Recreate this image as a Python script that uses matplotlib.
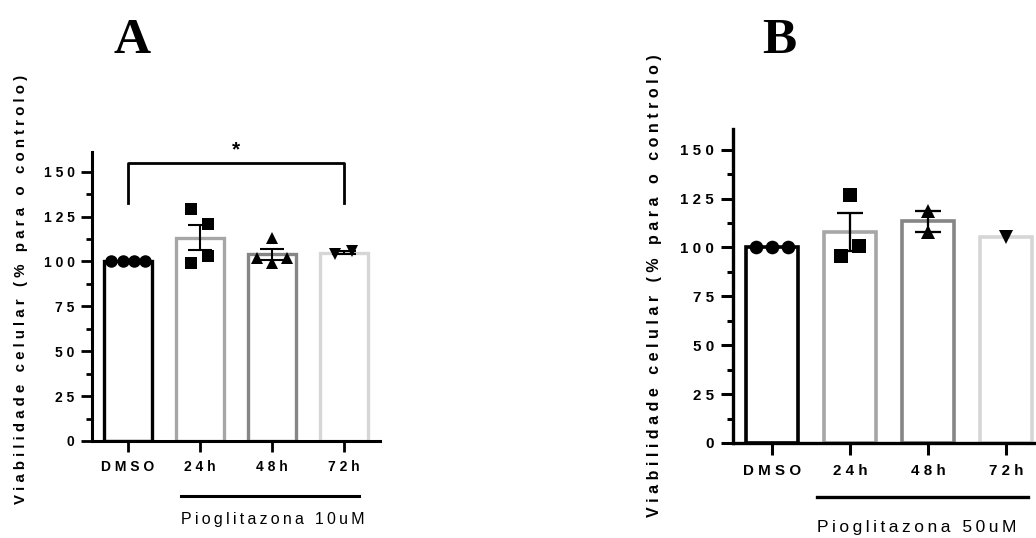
import matplotlib
matplotlib.use('Agg')
import matplotlib.pyplot as plt
import matplotlib.transforms as mtransforms
import numpy as np

# ---------------- data ----------------
categories = ['DMSO', '24h', '48h', '72h']
yticks = [0, 25, 50, 75, 100, 125, 150]
y_label = 'Viabilidade celular (% para o controlo)'
group_label_a = 'Pioglitazona 10uM'
group_label_b = 'Pioglitazona 50uM'

a_means = [100, 113.2, 104.0, 104.8]
a_sem = [0, 7.0, 3.0, 0.8]
a_dmso = [100, 100, 100, 100]
a_24h = [129, 121, 103.3, 99.4]
a_48h = [113, 102, 102, 99]
a_72h = [104.0, 105.6]

b_means = [100, 107.8, 113.3, 105.5]
b_sem = [0, 9.7, 5.4, 0]
b_dmso = [100, 100, 100]
b_24h = [95.6, 126.9, 100.9]
b_48h = [118.8, 107.9]
b_72h = [105.5]

# ---------------- style / layout ----------------
plt.rcParams['font.family'] = ['Liberation Sans', 'DejaVu Sans']
SEP = ' '
YSEP = ' '
GSEP = '\u2009'
bar_colors = ['#000000', '#a6a6a6', '#868686', '#d6d6d6']
markers = ['o', 's', '^', 'v']
W, H = 1036, 538

a_jit = [[-0.23, -0.07, 0.08, 0.24], [-0.12, 0.11, 0.11, -0.12],
         [0.0, -0.21, 0.21, 0.0], [-0.12, 0.11]]
b_jit = [[-0.21, 0.0, 0.21], [-0.12, 0.0, 0.12], [0.0, 0.0], [0.0]]


def spaced(s, sep):
    return sep.join(list(s))


fig = plt.figure(figsize=(W / 100, H / 100), dpi=100)


def px_axes(left, right, bottom, top):
    return fig.add_axes([left / W, 1 - bottom / H, (right - left) / W, (bottom - top) / H])


def draw_panel(ax, means, sems, points, jits, s, ytop, tick_fs, group_label,
               gx, gline_y, gtext_y, group_fs, title, title_x, ylab_x, ylab_y,
               ylab_fs):
    x = np.arange(len(categories))
    ax.bar(x, means, width=0.66, facecolor='white', edgecolor=bar_colors,
           linewidth=2.4 * s, zorder=1)
    for i, (pts, jt) in enumerate(zip(points, jits)):
        ax.plot(x[i] + np.array(jt), pts, linestyle='none', marker=markers[i],
                ms=(9.2 if markers[i] != 'o' else 9.0) * s, color='black',
                mew=0, zorder=3, clip_on=False)
    for i in range(len(categories)):
        if sems[i] > 0:
            ax.errorbar(x[i], means[i], yerr=sems[i], fmt='none', ecolor='black',
                        elinewidth=1.5 * s, capsize=8.5 * s, capthick=1.5 * s,
                        zorder=4)
    ax.set_xlim(-0.5, 3.5)
    ax.set_ylim(0, ytop)
    for sp in ['top', 'right']:
        ax.spines[sp].set_visible(False)
    for sp in ['left', 'bottom']:
        ax.spines[sp].set_linewidth(2.2 * s)
    ax.set_xticks(x)
    ax.set_xticklabels([spaced(c, SEP) for c in categories], fontsize=tick_fs,
                       fontweight='bold')
    ax.set_yticks(yticks)
    ax.set_yticklabels([spaced(str(v), SEP) for v in yticks], fontsize=tick_fs,
                       fontweight='bold')
    ax.set_yticks(np.arange(12.5, 150, 25), minor=True)
    ax.tick_params(axis='both', which='major', length=8 * s, width=2 * s,
                   color='black')
    ax.tick_params(axis='x', pad=6 * s)
    ax.tick_params(axis='y', pad=4.5 * s)
    ax.tick_params(axis='y', which='minor', length=4 * s, width=2 * s)
    trans = mtransforms.blended_transform_factory(ax.transData, ax.transAxes)
    ax.plot(gx, [gline_y, gline_y], color='black', lw=2.2 * s, transform=trans,
            clip_on=False)
    ax.text(gx[0], gtext_y, spaced(group_label, GSEP), transform=trans,
            ha='left', va='baseline', fontsize=group_fs)
    fig.text(title_x / W, 1 - 53 / H, title, ha='center', va='baseline',
             fontsize=37, fontweight='bold', family='Liberation Serif')
    fig.text(ylab_x / W, 1 - ylab_y / H, spaced(y_label, YSEP), rotation=90,
             ha='center', va='center', fontsize=ylab_fs, fontweight='bold')


# Panel A
axA = px_axes(92, 380, 441, 152)
draw_panel(axA, a_means, a_sem, [a_dmso, a_24h, a_48h, a_72h], a_jit, 1.0,
           161, 10, group_label_a, [0.74, 3.21], -0.190, -0.287, 11.5,
           'A', 132, 21, 289, 10.8)
axA.plot([0, 0, 3, 3], [132.7, 155, 155, 132.7], color='black', lw=2.0,
         clip_on=False)
axA.text(1.5, 162, '*', ha='center', va='center', fontsize=15,
         fontweight='bold', clip_on=False)

# Panel B
axB = px_axes(733, 1045, 443, 129)
draw_panel(axB, b_means, b_sem, [b_dmso, b_24h, b_48h, b_72h], b_jit, 1.09,
           160.6, 10.9, group_label_b, [0.58, 3.28], -0.172, -0.283, 12.5,
           'B', 779, 654, 286, 11.5)

fig.savefig('out.png', dpi=100)
